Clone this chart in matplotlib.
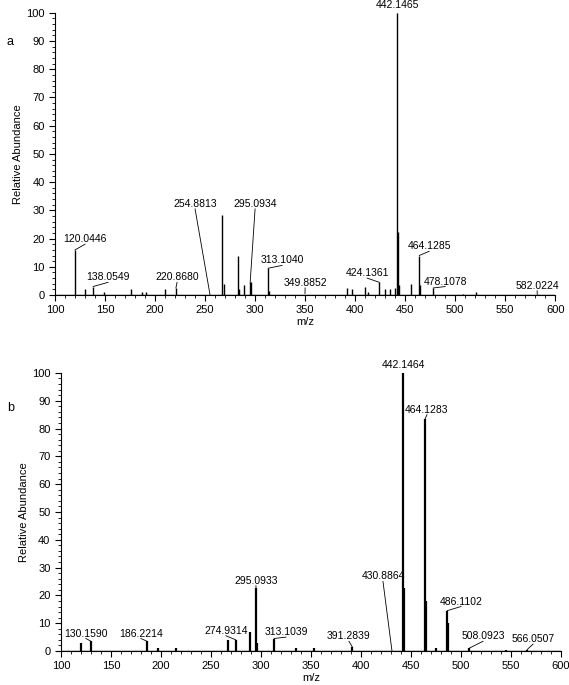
import matplotlib
matplotlib.use("Agg")
import matplotlib.pyplot as plt
from matplotlib.ticker import MultipleLocator

plt.rcParams['font.family'] = ['Liberation Sans', 'DejaVu Sans']

a_mz = [120.04, 130, 138.05, 149, 176, 187, 191, 210, 220.87, 267, 269, 283, 284, 289, 295.09, 296, 313.10, 314,
        392, 397, 410, 413, 424.14, 430, 435, 440, 442.15, 443, 444, 456, 464.13, 465, 478.11, 508, 521, 582.02]
a_int = [16, 2, 3, 1, 2, 1, 1, 2, 2.5, 28.5, 4, 14, 2, 3.5, 4.5, 4.5, 9.5, 1.5,
         2.5, 2, 3, 1, 4.5, 2, 2, 2.5, 100, 22.5, 3.5, 4, 14, 3.5, 2.5, 0.5, 1, 0.5]
a_labels = ["120.0446", "138.0549", "220.8680", "254.8813", "295.0934", "313.1040", "349.8852",
            "424.1361", "442.1465", "464.1285", "478.1078", "582.0224"]
a_peak = [(120.04, 16), (138.05, 3), (220.87, 2.5), (255, 0), (295.09, 4.5), (313.1, 9.5), (349.9, 0.5),
          (424.14, 4.5), (442.15, 100), (464.13, 14), (478.11, 2.5), (582.02, 0.5)]
a_text = [(130, 18), (153, 4.5), (222, 4.5), (240, 30.5), (300, 30.5), (327, 10.5), (350, 2.5),
          (412, 6), (442, 101), (474, 15.5), (490, 3), (582, 1.5)]

b_mz = [120, 130.16, 186.22, 197, 215, 267, 274.93, 289, 295.09, 296, 313.10, 335, 353, 391.28,
        442.15, 443, 464.13, 465, 475, 486.11, 487, 508.09, 545, 566.05]
b_int = [3, 3.5, 3.5, 1, 1, 4, 4, 7, 22.5, 3, 4.5, 1, 1, 1.5,
         100, 22.5, 83.5, 18, 1, 14.5, 10, 1, 0.5, 0.5]
b_labels = ["130.1590", "186.2214", "274.9314", "295.0933", "313.1039", "391.2839", "430.8864",
            "442.1464", "464.1283", "486.1102", "508.0923", "566.0507"]
b_peak = [(130.16, 3.5), (186.22, 3.5), (274.93, 4), (295.09, 22.5), (313.1, 4.5), (391.28, 1.5), (431, 0),
          (442.15, 100), (464.13, 83.5), (486.11, 14.5), (508.09, 1), (566.05, 0.5)]
b_text = [(125, 4.5), (180, 4.5), (265, 5.5), (295, 23.5), (325, 5), (388, 3.5), (422, 25),
          (442, 101), (466, 85), (500, 16), (522, 3.5), (572, 2.5)]

fig = plt.figure(figsize=(5.69, 6.85), dpi=100)
axA = fig.add_axes([0.0967, 0.5693, 0.879, 0.412])
axB = fig.add_axes([0.107, 0.0496, 0.879, 0.406])

def draw(ax, mz, inten, labels, peaks, texts, lw):
    ax.vlines(mz, 0, inten, color='black', lw=lw)
    ax.axhline(0, color='black', lw=1)
    for lab, (px, py), (tx, ty) in zip(labels, peaks, texts):
        ax.text(tx, ty, lab, ha='center', va='bottom', fontsize=7.5)
        ax.plot([tx, px], [ty, py], color='black', lw=0.6)
    ax.set_xlim(100, 600)
    ax.set_ylim(0, 100)
    ax.spines['top'].set_visible(False)
    ax.spines['right'].set_visible(False)
    ax.xaxis.set_major_locator(MultipleLocator(50))
    ax.xaxis.set_minor_locator(MultipleLocator(10))
    ax.yaxis.set_major_locator(MultipleLocator(10))
    ax.yaxis.set_minor_locator(MultipleLocator(2))
    ax.tick_params(labelsize=8, length=4, direction='out')
    ax.tick_params(which='minor', length=2)
    ax.set_xlabel('m/z', fontsize=8, labelpad=1)
    ax.set_ylabel('Relative Abundance', fontsize=8, labelpad=2)
    ax.set_clip_on(False)

draw(axA, a_mz, a_int, a_labels, a_peak, a_text, 1.0)
draw(axB, b_mz, b_int, b_labels, b_peak, b_text, 1.6)
fig.text(0.012, 0.935, 'a', fontsize=9)
fig.text(0.012, 0.40, 'b', fontsize=9)
fig.savefig('out.png', dpi=100)
